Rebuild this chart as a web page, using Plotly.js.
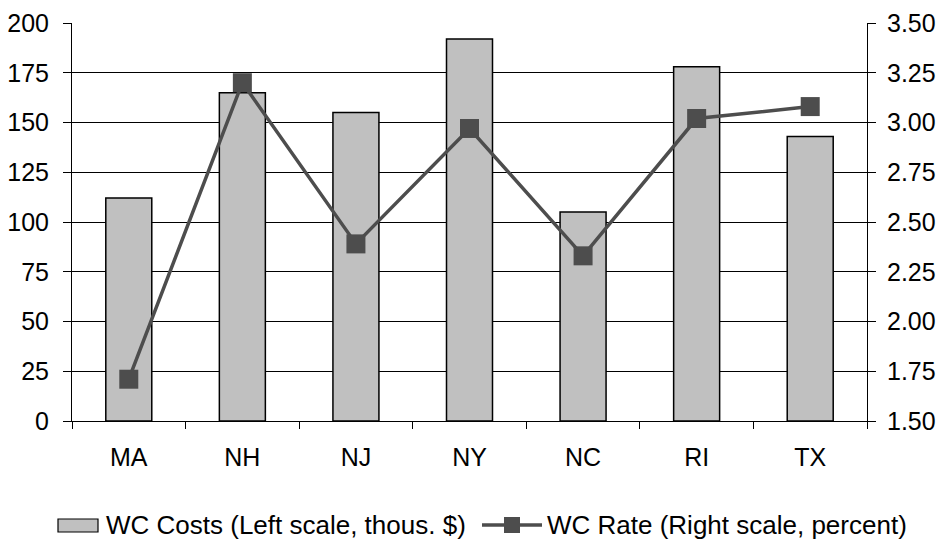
<!DOCTYPE html>
<html>
<head>
<meta charset="utf-8">
<script src="https://cdn.plot.ly/plotly-3.0.1.min.js"></script>
<style>
  html, body { margin: 0; padding: 0; background: #fff; }
  #chart { width: 941px; height: 540px; }
</style>
</head>
<body>
<div id="chart"></div>
<script>
// States compared
const states = ['MA', 'NH', 'NJ', 'NY', 'NC', 'RI', 'TX'];
// Workers' comp costs, thousands of dollars (left axis)
const wcCosts = [112, 165, 155, 192, 105, 178, 143];
// Workers' comp rate, percent (right axis)
const wcRate = [1.71, 3.20, 2.39, 2.97, 2.33, 3.02, 3.08];

const leftTicks = [0, 25, 50, 75, 100, 125, 150, 175, 200];
const rightTicks = [1.50, 1.75, 2.00, 2.25, 2.50, 2.75, 3.00, 3.25, 3.50];

const costName = 'WC Costs (Left scale, thous. $)';
const rateName = 'WC Rate (Right scale, percent)';

const W = 941, H = 540;
const M = { l: 72, r: 74, t: 23, b: 119 };
const plotW = W - M.l - M.r, plotH = H - M.t - M.b;
// pixel -> paper coordinates for the hand-built legend
const px = x => (x - M.l) / plotW;
const py = y => (H - M.b - y) / plotH;

const FONT = 'Liberation Sans, Arial, sans-serif';
const tickFont = { family: FONT, size: 25, color: '#000' };
const legendFont = { family: FONT, size: 26, color: '#000' };

const barColor = '#c0c0c0';
const lineColor = '#4d4d4d';

const costs = {
  type: 'bar',
  name: costName,
  x: states,
  y: wcCosts,
  yaxis: 'y',
  marker: { color: barColor, line: { color: '#000', width: 1.5 } }
};

const rate = {
  type: 'scatter',
  mode: 'lines+markers',
  name: rateName,
  x: states,
  y: wcRate,
  yaxis: 'y2',
  line: { color: lineColor, width: 3.5 },
  marker: { symbol: 'square', size: 19, color: lineColor }
};

// Legend row below the plot
const legY = 525;
const shapes = [
  { type: 'rect', xref: 'paper', yref: 'paper',
    x0: px(58), x1: px(98), y0: py(532), y1: py(519),
    fillcolor: barColor, line: { color: '#000', width: 1.2 } },
  { type: 'line', xref: 'paper', yref: 'paper',
    x0: px(482), x1: px(542), y0: py(legY), y1: py(legY),
    line: { color: lineColor, width: 3.5 } },
  { type: 'rect', xref: 'paper', yref: 'paper',
    x0: px(504), x1: px(520), y0: py(legY + 8), y1: py(legY - 8),
    fillcolor: lineColor, line: { width: 0 } }
];
const annotations = [
  { xref: 'paper', yref: 'paper', x: px(104), y: py(legY),
    xanchor: 'left', yanchor: 'middle', showarrow: false,
    text: costName, font: legendFont },
  { xref: 'paper', yref: 'paper', x: px(545), y: py(legY),
    xanchor: 'left', yanchor: 'middle', showarrow: false,
    text: rateName, font: legendFont }
];

const layout = {
  width: W,
  height: H,
  margin: M,
  paper_bgcolor: '#fff',
  plot_bgcolor: '#fff',
  font: tickFont,
  showlegend: false,
  bargap: 0.595,
  xaxis: {
    type: 'category',
    showline: true, linecolor: '#000', linewidth: 1,
    ticks: 'outside', tickson: 'boundaries', ticklen: 7, tickcolor: '#000',
    ticklabelstandoff: 14,
    showgrid: false, zeroline: false, fixedrange: true
  },
  yaxis: {
    range: [0, 200],
    tickvals: leftTicks,
    showline: true, linecolor: '#000', linewidth: 1,
    ticks: 'outside', ticklen: 8, tickcolor: '#000',
    ticklabelstandoff: 9,
    showgrid: true, gridcolor: '#000', gridwidth: 1,
    zeroline: false, fixedrange: true
  },
  yaxis2: {
    overlaying: 'y', side: 'right',
    range: [1.5, 3.5],
    tickvals: rightTicks,
    tickformat: '.2f',
    showline: true, linecolor: '#000', linewidth: 1,
    ticks: 'outside', ticklen: 8, tickcolor: '#000',
    ticklabelstandoff: 6,
    showgrid: false, zeroline: false, fixedrange: true
  },
  shapes: shapes,
  annotations: annotations
};

Plotly.newPlot('chart', [costs, rate], layout, { displayModeBar: false, staticPlot: true });
</script>
</body>
</html>
